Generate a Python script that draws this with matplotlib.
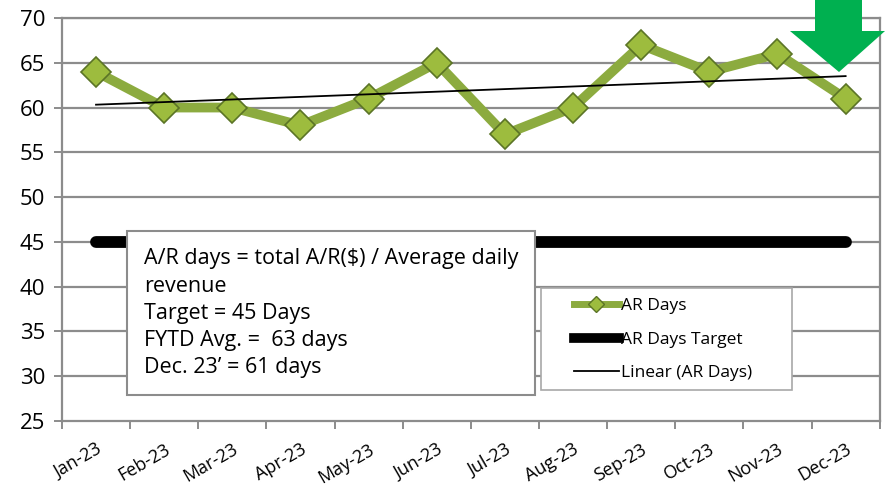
import matplotlib.pyplot as plt
from matplotlib.patches import Polygon, Rectangle
from matplotlib.lines import Line2D
from matplotlib.transforms import IdentityTransform
import numpy as np

plt.rcParams['font.family'] = ['Open Sans', 'DejaVu Sans']

months = ["Jan-23", "Feb-23", "Mar-23", "Apr-23", "May-23", "Jun-23",
          "Jul-23", "Aug-23", "Sep-23", "Oct-23", "Nov-23", "Dec-23"]
ar_days = [64, 60, 60, 58, 61, 65, 57, 60, 67, 64, 66, 61]
ar_target = [45] * 12
note_lines = ["A/R days = total A/R($) / Average daily", "revenue",
              "Target = 45 Days", "FYTD Avg. =  63 days", "Dec. 23\u2019 = 61 days"]

x = np.arange(len(months))
slope, intercept = np.polyfit(x, ar_days, 1)
trend = slope * x + intercept

fig = plt.figure(figsize=(8.85, 5.01), dpi=100)
ax = fig.add_axes([0.070, 0.160, 0.924, 0.804])

grid_color = '#8c8c8c'
ax.set_ylim(25, 70)
ax.set_xlim(-0.5, 11.5)
ax.set_yticks(np.arange(25, 71, 5))
for yv in np.arange(30, 71, 5):
    ax.axhline(yv, color=grid_color, lw=1.6, zorder=0)

ax.plot(x, ar_target, color='black', lw=8.5, solid_capstyle='round', zorder=2)
ax.plot(x, ar_days, color='#8cab3f', lw=7, zorder=3,
        marker='D', markersize=15, markerfacecolor='#9dbc3e',
        markeredgecolor='#5b7426', markeredgewidth=1.2)
ax.plot(x, trend, color='black', lw=1.3, zorder=4)

# x axis: labels at month centres, tick marks at boundaries
ax.set_xticks(x)
ax.set_xticklabels(months, rotation=30, ha='right', rotation_mode='anchor', fontsize=13)
ax.tick_params(axis='x', which='major', length=0, pad=14)
ax.set_xticks(np.arange(-0.5, 12, 1), minor=True)
ax.tick_params(axis='x', which='minor', length=6, width=1.4, color=grid_color)
ax.tick_params(axis='y', length=6, width=1.4, color=grid_color, labelsize=16, pad=6)

for s in ax.spines.values():
    s.set_color(grid_color)
    s.set_linewidth(1.6)

ax.text(0.100, 0.428, "\n".join(note_lines), transform=ax.transAxes,
        ha='left', va='top', fontsize=15.5, linespacing=1.38, zorder=6,
        bbox=dict(boxstyle='square,pad=0.8', facecolor='white',
                  edgecolor='#8c8c8c', linewidth=1.5))

# legend box (drawn separately so it can be wider than its entries)
ax.add_patch(Rectangle((0.5856, 0.077), 0.307, 0.253, transform=ax.transAxes,
                       facecolor='white', edgecolor='#a8a8a8', linewidth=1.2,
                       zorder=5.5))
handles = [
    Line2D([], [], color='#8cab3f', lw=5, marker='D', markersize=8,
           markerfacecolor='#9dbc3e', markeredgecolor='#5b7426'),
    Line2D([], [], color='black', lw=7),
    Line2D([], [], color='black', lw=1.3),
]
leg = ax.legend(handles, ["AR Days", "AR Days Target", "Linear (AR Days)"],
                loc='upper left', bbox_to_anchor=(0.626, 0.305), fontsize=12.5,
                frameon=False, handlelength=2.6, handletextpad=0.1,
                borderpad=0, labelspacing=1.0, borderaxespad=0)
leg.set_zorder(6)

# green down arrow in the top-right corner (pixel coordinates)
arrow = Polygon([(815, 501), (862, 501), (862, 470), (885, 470), (839, 429),
                 (790, 470), (815, 470)],
                closed=True, facecolor='#00b050', edgecolor='none', zorder=10)
arrow.set_transform(IdentityTransform())
fig.patches.append(arrow)

fig.savefig('out.png', dpi=100)
